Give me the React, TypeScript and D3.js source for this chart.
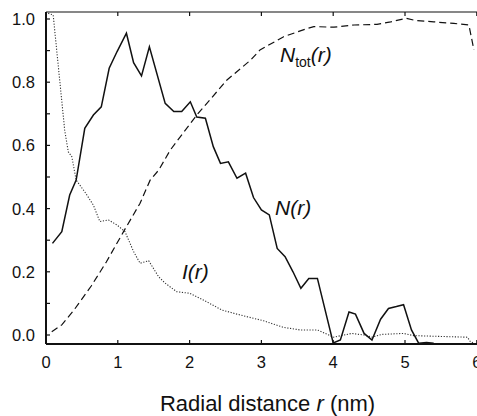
import React from "react";
import * as d3 from "d3";

// N(r): solid line
const nR = [0.09, 0.22, 0.33, 0.42, 0.54, 0.66, 0.77, 0.88, 0.99, 1.12, 1.22, 1.33, 1.44, 1.66, 1.78, 1.89, 2.01, 2.10, 2.22, 2.33, 2.43, 2.54, 2.66, 2.78, 2.89, 3.0, 3.11, 3.22, 3.33, 3.44, 3.55, 3.66, 3.78, 4.0, 4.1, 4.22, 4.31, 4.43, 4.54, 4.66, 4.77, 4.88, 4.98, 5.09, 5.19, 5.3, 5.4];
const nV = [0.29, 0.327, 0.443, 0.49, 0.654, 0.696, 0.722, 0.844, 0.897, 0.955, 0.862, 0.82, 0.912, 0.733, 0.707, 0.707, 0.738, 0.69, 0.686, 0.596, 0.543, 0.548, 0.496, 0.512, 0.435, 0.396, 0.38, 0.274, 0.248, 0.2, 0.148, 0.179, 0.179, -0.025, -0.016, 0.073, 0.066, 0.005, -0.016, 0.05, 0.084, 0.09, 0.096, 0.016, -0.026, -0.024, -0.026];

// N_tot(r): dashed line
const totR = [0.08, 0.22, 0.39, 0.63, 0.84, 1.08, 1.31, 1.45, 1.57, 1.73, 2.10, 2.52, 2.85, 2.98, 3.31, 3.64, 3.73, 4.01, 4.29, 4.61, 4.80, 5.02, 5.15, 5.40, 5.68, 5.89, 5.96];
const totV = [0.01, 0.032, 0.079, 0.155, 0.231, 0.327, 0.417, 0.49, 0.522, 0.585, 0.696, 0.807, 0.87, 0.902, 0.944, 0.97, 0.976, 0.974, 0.981, 0.983, 0.991, 1.002, 0.995, 0.991, 0.986, 0.981, 0.902];

// I(r): dotted line
const iR = [0.03, 0.10, 0.26, 0.31, 0.36, 0.42, 0.54, 0.66, 0.75, 0.87, 0.99, 1.10, 1.22, 1.31, 1.43, 1.57, 1.66, 1.82, 2.0, 2.19, 2.45, 2.71, 3.03, 3.31, 3.54, 3.78, 3.94, 4.0, 4.15, 4.26, 4.43, 4.54, 4.68, 4.98, 5.12, 5.87, 5.91, 5.96];
const iV = [1.018, 1.013, 0.649, 0.58, 0.564, 0.49, 0.453, 0.411, 0.359, 0.364, 0.348, 0.327, 0.264, 0.227, 0.235, 0.184, 0.164, 0.137, 0.132, 0.111, 0.079, 0.063, 0.045, 0.024, 0.016, 0.016, 0.0, -0.007, 0.0, 0.005, 0.0, -0.007, 0.002, 0.005, -0.002, -0.007, -0.021, -0.026];

const xTicks = [0, 1, 2, 3, 4, 5, 6];
const yTickLabels = ["0.0", "0.2", "0.4", "0.6", "0.8", "1.0"];
const yMinorTicks = [0, 0.1, 0.2, 0.3, 0.4, 0.5, 0.6, 0.7, 0.8, 0.9, 1.0];

const W = 477;
const H = 416;
const left = 46;
const right = 476.8;
const top = 12;
const bottom = 344;

export default function App() {
  const x = d3.scaleLinear().domain([0, 6]).range([left, right]);
  const y = d3.scaleLinear().domain([0, 1]).range([335, 19]);

  const mk = (rs: number[], vs: number[]) =>
    d3
      .line<number>()
      .x((_, i) => x(rs[i]))
      .y((_, i) => y(vs[i]))(rs.map((_, i) => i)) || "";

  const font = "'Liberation Sans', Arial, Helvetica, sans-serif";
  const ink = "#111";

  return (
    <svg
      width={W}
      height={H}
      style={{ position: "fixed", left: 0, top: 0, background: "#fff" }}
      fontFamily={font}
    >
      <rect x={0} y={0} width={W} height={H} fill="#fff" />
      {/* curves */}
      <path d={mk(iR, iV)} fill="none" stroke="#333" strokeWidth={1.1} strokeDasharray="1.2,1.6" />
      <path d={mk(totR, totV)} fill="none" stroke={ink} strokeWidth={1.2} strokeDasharray="7,4" />
      <path d={mk(nR, nV)} fill="none" stroke={ink} strokeWidth={1.5} strokeLinejoin="miter" />

      {/* frame */}
      <line x1={left} x2={W} y1={top} y2={top} stroke={ink} strokeWidth={1.2} />
      <line x1={left} x2={left} y1={top} y2={bottom} stroke={ink} strokeWidth={2} />
      <line x1={left} x2={W} y1={bottom} y2={bottom} stroke={ink} strokeWidth={2} />

      {/* x ticks */}
      {xTicks.map((t) => (
        <g key={"xt" + t}>
          <line x1={x(t)} x2={x(t)} y1={bottom} y2={bottom - 4} stroke={ink} strokeWidth={1.2} />
          <line x1={x(t)} x2={x(t)} y1={top} y2={top + 4} stroke={ink} strokeWidth={1.2} />
          <text x={x(t)} y={368} textAnchor="middle" fontSize={16.5} fill={ink}>
            {t}
          </text>
        </g>
      ))}

      {/* y ticks */}
      {yMinorTicks.map((t) => (
        <line key={"ym" + t} x1={left} x2={left + 4} y1={y(t)} y2={y(t)} stroke={ink} strokeWidth={1.2} />
      ))}
      {yTickLabels.map((s) => (
        <text key={"yl" + s} x={35} y={y(+s) + 6} textAnchor="end" fontSize={16.5} fill={ink}>
          {s}
        </text>
      ))}

      {/* annotations */}
      <text x={280} y={62} fontSize={21} fontStyle="italic" fill={ink}>
        N<tspan fontSize={14} fontStyle="normal" dy={5}>tot</tspan>
        <tspan dy={-5}>(r)</tspan>
      </text>
      <text x={275} y={215} fontSize={21} fontStyle="italic" fill={ink}>
        N(r)
      </text>
      <text x={182} y={279} fontSize={21} fontStyle="italic" fill={ink}>
        I(r)
      </text>

      {/* axis title */}
      <text x={267.5} y={411} textAnchor="middle" fontSize={22} fill={ink}>
        Radial distance <tspan fontStyle="italic">r</tspan> (nm)
      </text>
    </svg>
  );
}
